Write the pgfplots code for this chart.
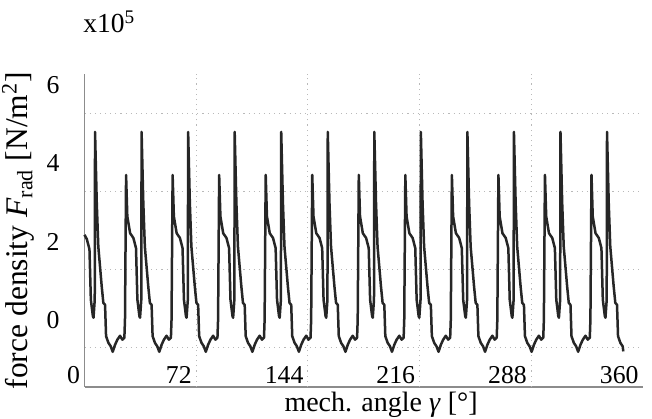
\documentclass[border=0pt]{standalone}
\usepackage{fontspec}
\setmainfont{Liberation Serif}
\usepackage{pgfplots}
\pgfplotsset{compat=1.18}
\definecolor{linec}{RGB}{38,38,38}
\definecolor{axc}{RGB}{140,140,140}
\definecolor{gridc}{RGB}{185,185,185}
\begin{document}
\begin{tikzpicture}
\begin{axis}[
  scale only axis,
  width=223.4pt, height=125.2pt,
  xmin=0, xmax=360, ymin=-1, ymax=7,
  axis lines=left,
  axis line style={-, draw=axc, line width=0.45pt},
  xtick={0,72,144,216,288,360},
  xticklabels={{0\hspace{3pt}},72,144,216,288,360},
  extra x ticks={72,144,216,288},
  extra x tick labels={},
  extra x tick style={grid=major},
  ytick={0,2,4,6},
  major tick length=0pt,
  tick style={draw=none},
  xmajorgrids=false, ymajorgrids,
  grid style={dash pattern=on 0.45pt off 1.6pt, draw=gridc, line width=0.45pt},
  /pgf/number format/assume math mode=true,
  tick label style={font=\fontsize{10.3}{12}\selectfont},
  xticklabel style={anchor=south east, inner sep=1pt, xshift=-0.6pt},
  yticklabel style={anchor=east, inner sep=0pt, xshift=-9.8pt, yshift=11.2pt},
  xlabel={mech. angle \textit{γ} [°]},
  xlabel style={at={(axis description cs:0.531,-0.078)}, anchor=base, inner sep=0pt, font=\fontsize{11.2}{13}\selectfont},
  ylabel={force density \textit{F}\textsubscript{rad} [N/m\textsuperscript{2}]},
  ylabel style={at={(axis description cs:-0.089,0.5)}, anchor=south, inner sep=0pt, font=\fontsize{12.6}{15}\selectfont},
  clip=false,
]
\coordinate (A) at (rel axis cs:0,0);
\coordinate (B) at (rel axis cs:1,1);
\node[anchor=base west, inner sep=0pt, font=\fontsize{11}{13}\selectfont] at (axis description cs:-0.003,1.131) {x10\textsuperscript{5}};
\addplot[draw=linec, line width=1pt, line join=round] coordinates {
(0,2.89)(1.5,2.78)(3.2,2.52)(4.1,1.23)(5.4,0.81)(5.8,0.77)(6.6,1.23)
(6.8,5.52)(7.9,3.71)(8.9,2.59)(11.1,1.57)(12.15,1.15)(13.25,1.10)(13.9,0.30)(15.4,0.13)(16.9,0.04)(18.2,-0.10)(19.7,0.08)(21.2,0.21)(22.9,0.31)(24.4,0.21)(25.7,0.26)(26.1,0.72)(26.8,4.42)(27.6,3.36)(29.4,2.93)(31.5,2.81)(33.2,2.55)(34.1,1.23)(35.4,0.81)(35.8,0.77)(36.6,1.23)
(36.8,5.52)(37.9,3.71)(38.9,2.59)(41.1,1.57)(42.15,1.15)(43.25,1.10)(43.9,0.30)(45.4,0.13)(46.9,0.04)(48.2,-0.10)(49.7,0.08)(51.2,0.21)(52.9,0.31)(54.4,0.21)(55.7,0.26)(56.1,0.72)(56.8,4.42)(57.6,3.36)(59.4,2.93)(61.5,2.81)(63.2,2.55)(64.1,1.23)(65.4,0.81)(65.8,0.77)(66.6,1.23)
(66.8,5.52)(67.9,3.71)(68.9,2.59)(71.1,1.57)(72.15,1.15)(73.25,1.10)(73.9,0.30)(75.4,0.13)(76.9,0.04)(78.2,-0.10)(79.7,0.08)(81.2,0.21)(82.9,0.31)(84.4,0.21)(85.7,0.26)(86.1,0.72)(86.8,4.42)(87.6,3.36)(89.4,2.93)(91.5,2.81)(93.2,2.55)(94.1,1.23)(95.4,0.81)(95.8,0.77)(96.6,1.23)
(96.8,5.52)(97.9,3.71)(98.9,2.59)(101.1,1.57)(102.15,1.15)(103.25,1.10)(103.9,0.30)(105.4,0.13)(106.9,0.04)(108.2,-0.10)(109.7,0.08)(111.2,0.21)(112.9,0.31)(114.4,0.21)(115.7,0.26)(116.1,0.72)(116.8,4.42)(117.6,3.36)(119.4,2.93)(121.5,2.81)(123.2,2.55)(124.1,1.23)(125.4,0.81)(125.8,0.77)(126.6,1.23)
(126.8,5.52)(127.9,3.71)(128.9,2.59)(131.1,1.57)(132.15,1.15)(133.25,1.10)(133.9,0.30)(135.4,0.13)(136.9,0.04)(138.2,-0.10)(139.7,0.08)(141.2,0.21)(142.9,0.31)(144.4,0.21)(145.7,0.26)(146.1,0.72)(146.8,4.42)(147.6,3.36)(149.4,2.93)(151.5,2.81)(153.2,2.55)(154.1,1.23)(155.4,0.81)(155.8,0.77)(156.6,1.23)
(156.8,5.52)(157.9,3.71)(158.9,2.59)(161.1,1.57)(162.15,1.15)(163.25,1.10)(163.9,0.30)(165.4,0.13)(166.9,0.04)(168.2,-0.10)(169.7,0.08)(171.2,0.21)(172.9,0.31)(174.4,0.21)(175.7,0.26)(176.1,0.72)(176.8,4.42)(177.6,3.36)(179.4,2.93)(181.5,2.81)(183.2,2.55)(184.1,1.23)(185.4,0.81)(185.8,0.77)(186.6,1.23)
(186.8,5.52)(187.9,3.71)(188.9,2.59)(191.1,1.57)(192.15,1.15)(193.25,1.10)(193.9,0.30)(195.4,0.13)(196.9,0.04)(198.2,-0.10)(199.7,0.08)(201.2,0.21)(202.9,0.31)(204.4,0.21)(205.7,0.26)(206.1,0.72)(206.8,4.42)(207.6,3.36)(209.4,2.93)(211.5,2.81)(213.2,2.55)(214.1,1.23)(215.4,0.81)(215.8,0.77)(216.6,1.23)
(216.8,5.52)(217.9,3.71)(218.9,2.59)(221.1,1.57)(222.15,1.15)(223.25,1.10)(223.9,0.30)(225.4,0.13)(226.9,0.04)(228.2,-0.10)(229.7,0.08)(231.2,0.21)(232.9,0.31)(234.4,0.21)(235.7,0.26)(236.1,0.72)(236.8,4.42)(237.6,3.36)(239.4,2.93)(241.5,2.81)(243.2,2.55)(244.1,1.23)(245.4,0.81)(245.8,0.77)(246.6,1.23)
(246.8,5.52)(247.9,3.71)(248.9,2.59)(251.1,1.57)(252.15,1.15)(253.25,1.10)(253.9,0.30)(255.4,0.13)(256.9,0.04)(258.2,-0.10)(259.7,0.08)(261.2,0.21)(262.9,0.31)(264.4,0.21)(265.7,0.26)(266.1,0.72)(266.8,4.42)(267.6,3.36)(269.4,2.93)(271.5,2.81)(273.2,2.55)(274.1,1.23)(275.4,0.81)(275.8,0.77)(276.6,1.23)
(276.8,5.52)(277.9,3.71)(278.9,2.59)(281.1,1.57)(282.15,1.15)(283.25,1.10)(283.9,0.30)(285.4,0.13)(286.9,0.04)(288.2,-0.10)(289.7,0.08)(291.2,0.21)(292.9,0.31)(294.4,0.21)(295.7,0.26)(296.1,0.72)(296.8,4.42)(297.6,3.36)(299.4,2.93)(301.5,2.81)(303.2,2.55)(304.1,1.23)(305.4,0.81)(305.8,0.77)(306.6,1.23)
(306.8,5.52)(307.9,3.71)(308.9,2.59)(311.1,1.57)(312.15,1.15)(313.25,1.10)(313.9,0.30)(315.4,0.13)(316.9,0.04)(318.2,-0.10)(319.7,0.08)(321.2,0.21)(322.9,0.31)(324.4,0.21)(325.7,0.26)(326.1,0.72)(326.8,4.42)(327.6,3.36)(329.4,2.93)(331.5,2.81)(333.2,2.55)(334.1,1.23)(335.4,0.81)(335.8,0.77)(336.6,1.23)
(336.8,5.52)(337.9,3.71)(338.9,2.59)(341.1,1.57)(342.15,1.15)(343.25,1.10)(343.9,0.30)(345.4,0.13)(346.9,0.04)(347.3,-0.09)
};
\end{axis}
\pgfresetboundingbox
\path ([shift={(-33.8pt,-12.6pt)}]A) rectangle ([shift={(3.6pt,29.6pt)}]B);
\end{tikzpicture}
\end{document}
